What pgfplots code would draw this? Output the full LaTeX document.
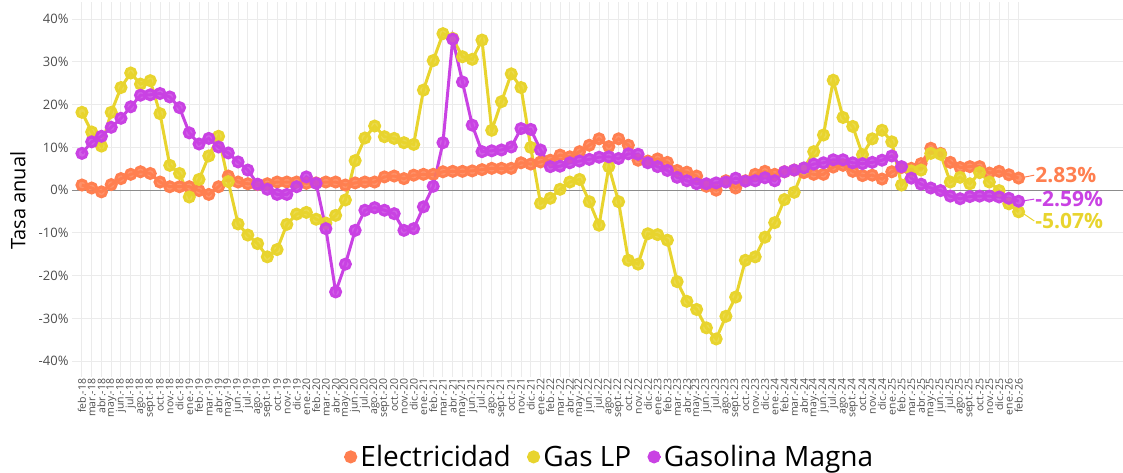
\documentclass[border=0pt]{standalone}
\usepackage{pgfplots}
\pgfplotsset{compat=1.18}
\usepackage{pgfplotstable}
\usepackage{fontspec}
\setmainfont{Open Sans}
\definecolor{elec}{HTML}{FF7F50}
\definecolor{gaslp}{HTML}{E8D42E}
\definecolor{magna}{HTML}{C942E3}
\definecolor{gridc}{HTML}{EBEBEB}
\definecolor{tickc}{HTML}{4D4D4D}

\pgfplotstableread{
x E G M
0 1.2 18.2 8.6
1 0.5 13.6 11.3
2 -0.4 10.3 12.6
3 1.3 18.2 14.7
4 2.7 24.0 16.8
5 3.7 27.4 19.5
6 4.3 24.8 22.2
7 3.9 25.6 22.3
8 1.9 17.9 22.6
9 0.8 5.8 21.8
10 0.8 3.9 19.3
11 0.8 -1.6 13.4
12 -0.1 2.5 10.8
13 -1.0 8.0 12.1
14 0.8 12.6 10.1
15 3.3 2.0 8.7
16 1.9 -7.9 6.6
17 1.5 -10.5 4.7
18 1.3 -12.5 1.4
19 1.5 -15.6 0.2
20 1.9 -13.9 -1.0
21 1.9 -8.0 -1.0
22 1.9 -5.6 0.8
23 1.6 -5.2 3.1
24 1.7 -6.8 1.6
25 1.9 -7.7 -9.0
26 1.9 -5.9 -23.8
27 1.2 -2.3 -17.3
28 1.7 6.9 -9.4
29 1.9 12.2 -4.7
30 1.9 15.0 -4.1
31 3.1 12.5 -4.7
32 3.3 12.1 -5.5
33 2.7 11.1 -9.4
34 3.5 10.7 -9.0
35 3.7 23.4 -3.9
36 3.7 30.3 0.9
37 4.3 36.6 11.1
38 4.4 35.5 35.3
39 4.4 31.2 25.3
40 4.5 30.6 15.2
41 4.8 35.1 9.0
42 5.1 14.0 9.2
43 5.1 20.7 9.4
44 5.1 27.2 10.1
45 6.4 24.0 14.4
46 6.1 10.0 14.2
47 6.6 -3.1 9.4
48 7.0 -1.9 5.5
49 8.2 0.2 5.6
50 7.8 1.9 6.4
51 9.0 2.5 6.8
52 10.5 -2.7 7.2
53 12.0 -8.2 7.7
54 10.2 5.5 7.8
55 12.0 -2.7 7.4
56 10.5 -16.4 8.5
57 7.0 -17.3 8.4
58 6.8 -10.2 6.4
59 7.3 -10.4 5.5
60 6.5 -11.7 4.6
61 4.6 -21.4 3.0
62 4.2 -26.0 2.2
63 3.3 -27.9 1.5
64 0.9 -32.2 1.5
65 0.0 -34.8 1.7
66 2.2 -29.5 1.9
67 0.5 -25.0 2.8
68 2.2 -16.4 2.1
69 3.7 -15.6 2.2
70 4.4 -11.0 2.9
71 3.7 -7.6 2.2
72 4.3 -2.2 4.3
73 4.7 -0.5 4.7
74 4.1 5.1 5.2
75 3.7 9.0 6.1
76 3.7 12.9 6.4
77 5.4 25.7 7.1
78 5.8 17.0 7.1
79 4.4 14.9 6.4
80 3.4 8.3 6.2
81 3.5 12.0 6.5
82 2.6 14.0 7.0
83 4.3 11.3 8.0
84 5.3 1.2 5.5
85 5.1 4.5 2.8
86 6.2 4.7 1.4
87 9.8 8.6 0.5
88 8.6 8.4 -0.1
89 6.5 1.9 -1.4
90 5.3 3.0 -2.0
91 5.5 1.5 -1.5
92 5.5 4.1 -1.4
93 4.0 1.9 -1.4
94 4.4 -0.1 -1.6
95 3.6 -3.2 -1.9
96 2.83 -5.07 -2.59
}\datatable

\begin{document}
\begin{tikzpicture}
\path[use as bounding box] (0pt,0pt) rectangle (1123pt,-472pt);
\begin{axis}[
  at={(72pt,-2pt)}, anchor=north west,
  width=1051pt, height=375pt, scale only axis,
  xmin=-1.02, xmax=106.7, ymin=-43.7, ymax=44,
  clip=false,
  axis line style={draw=none},
  major tick length=0pt,
  xtick={0,...,96},
  xticklabels={feb.-18,mar.-18,abr.-18,may.-18,jun.-18,jul.-18,ago.-18,sept.-18,oct.-18,nov.-18,dic.-18,
    ene.-19,feb.-19,mar.-19,abr.-19,may.-19,jun.-19,jul.-19,ago.-19,sept.-19,oct.-19,nov.-19,dic.-19,
    ene.-20,feb.-20,mar.-20,abr.-20,may.-20,jun.-20,jul.-20,ago.-20,sept.-20,oct.-20,nov.-20,dic.-20,
    ene.-21,feb.-21,mar.-21,abr.-21,may.-21,jun.-21,jul.-21,ago.-21,sept.-21,oct.-21,nov.-21,dic.-21,
    ene.-22,feb.-22,mar.-22,abr.-22,may.-22,jun.-22,jul.-22,ago.-22,sept.-22,oct.-22,nov.-22,dic.-22,
    ene.-23,feb.-23,mar.-23,abr.-23,may.-23,jun.-23,jul.-23,ago.-23,sept.-23,oct.-23,nov.-23,dic.-23,
    ene.-24,feb.-24,mar.-24,abr.-24,may.-24,jun.-24,jul.-24,ago.-24,sept.-24,oct.-24,nov.-24,dic.-24,
    ene.-25,feb.-25,mar.-25,abr.-25,may.-25,jun.-25,jul.-25,ago.-25,sept.-25,oct.-25,nov.-25,dic.-25,
    ene.-26,feb.-26},
  xticklabel style={rotate=90, anchor=east, font=\fontsize{10.5}{10.5}\selectfont, text=tickc, inner sep=1.5pt},
  ytick={-40,-30,-20,-10,0,10,20,30,40},
  yticklabels={-40\%,-30\%,-20\%,-10\%,0\%,10\%,20\%,30\%,40\%},
  yticklabel style={font=\fontsize{13}{13}\selectfont, text=tickc},
  grid=major,
  major grid style={gridc, line width=1pt},
  extra y ticks={0}, extra y tick labels={},
  extra y tick style={grid=major, major grid style={black!45, line width=1pt}},
  ylabel={Tasa anual},
  ylabel style={font=\fontsize{20}{20}\selectfont, at={(axis description cs:-0.0514,0.47)}, anchor=center},
  legend columns=-1,
  legend style={at={(0.511,-0.213)}, anchor=center, draw=none, fill=none,
    font=\fontsize{28}{28}\selectfont, /tikz/every even column/.append style={column sep=13pt}},
  legend image code/.code={\draw[line width=2.5pt] (0pt,0pt) -- (13pt,0pt); \fill (6.5pt,0pt) circle (5pt);},
]
\addplot[elec, line width=3pt, mark=*, mark size=5pt, mark options={draw=none, fill=elec, fill opacity=0.85}] table[x=x, y=E] {\datatable};
\addplot[gaslp, line width=3pt, mark=*, mark size=5pt, mark options={draw=none, fill=gaslp, fill opacity=0.85}] table[x=x, y=G] {\datatable};
\addplot[magna, line width=3pt, mark=*, mark size=5pt, mark options={draw=none, fill=magna, fill opacity=0.85}] table[x=x, y=M] {\datatable};
\legend{Electricidad, Gas LP, Gasolina Magna}
\draw[elec, line width=1pt] (axis cs:96.5,3.0) -- (axis cs:97.6,3.5);
\draw[magna, line width=1pt] (axis cs:96.5,-2.5) -- (axis cs:97.6,-2.1);
\draw[gaslp, line width=1pt] (axis cs:96.5,-5.5) -- (axis cs:97.6,-7.2);
\node[anchor=west, text=elec, font=\bfseries\fontsize{21}{21}\selectfont, inner sep=1pt] at (axis cs:97.6,3.5) {2.83\%};
\node[anchor=west, text=magna, font=\bfseries\fontsize{21}{21}\selectfont, inner sep=1pt] at (axis cs:97.6,-2.1) {-2.59\%};
\node[anchor=west, text=gaslp, font=\bfseries\fontsize{21}{21}\selectfont, inner sep=1pt] at (axis cs:97.6,-7.2) {-5.07\%};
\end{axis}
\end{tikzpicture}
\end{document}
